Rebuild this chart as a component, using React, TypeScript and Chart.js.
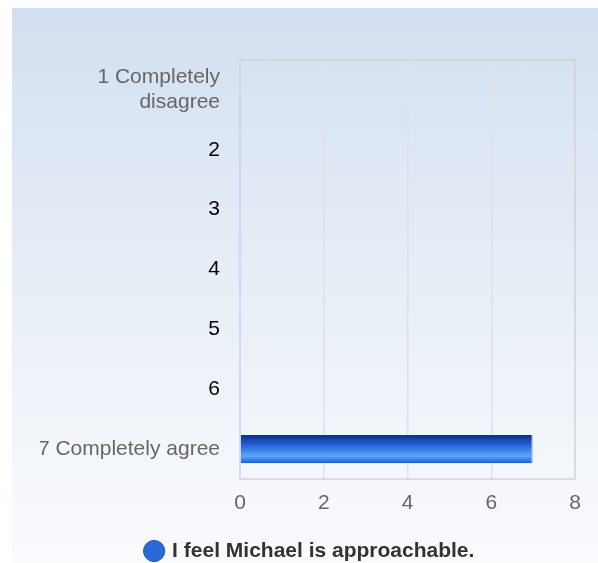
import React, { useEffect, useRef } from "react";
import { Chart, registerables } from "chart.js";

Chart.register(...registerables);

const categories: (string | string[])[] = [
  ["1 Completely", "disagree"],
  "2",
  "3",
  "4",
  "5",
  "6",
  "7 Completely agree",
];
const seriesLabel = "I feel Michael is approachable.";
const seriesValues = [0, 0, 0, 0, 0, 0, 7];
const xMin = 0;
const xMax = 8;
const xStep = 2;

const frame = {
  id: "frame",
  beforeDatasetsDraw(chart: any) {
    const { ctx, chartArea } = chart;
    ctx.save();
    ctx.strokeStyle = "#cfd3da";
    ctx.lineWidth = 1.5;
    ctx.beginPath();
    ctx.moveTo(chartArea.left, chartArea.top);
    ctx.lineTo(chartArea.right, chartArea.top);
    ctx.lineTo(chartArea.right, chartArea.bottom);
    ctx.lineTo(chartArea.left, chartArea.bottom);
    ctx.stroke();
    ctx.strokeStyle = "#c6d3ea";
    ctx.beginPath();
    ctx.moveTo(chartArea.left, chartArea.top);
    ctx.lineTo(chartArea.left, chartArea.bottom);
    ctx.stroke();
    ctx.restore();
  },
};

export default function App() {
  const ref = useRef<HTMLCanvasElement>(null);
  useEffect(() => {
    if (!ref.current) return;
    const font = { family: "'Liberation Sans', Arial, sans-serif", size: 21 };
    const chart = new Chart(ref.current, {
      type: "bar",
      data: {
        labels: categories,
        datasets: [
          {
            label: seriesLabel,
            data: seriesValues,
            backgroundColor: (c: any) => {
              const ch = c.chart;
              if (!ch.chartArea || !ch.scales.y) return "#2a6bd8";
              const y = ch.scales.y.getPixelForValue(c.dataIndex);
              const h = 14;
              const g = ch.ctx.createLinearGradient(0, y - h, 0, y + h);
              g.addColorStop(0, "#0a2f8c");
              g.addColorStop(0.35, "#2461d6");
              g.addColorStop(0.75, "#5aa6ff");
              g.addColorStop(1, "#1c5fd2");
              return g;
            },
            borderColor: "#b8cff5",
            borderWidth: { top: 0, bottom: 0, left: 0, right: 1.5 },
            borderSkipped: false,
            barPercentage: 0.94,
            categoryPercentage: 0.5,
          },
        ],
      },
      options: {
        indexAxis: "y",
        responsive: false,
        animation: false,
        layout: { padding: { top: 52, right: 17, left: 28, bottom: 0 } },
        scales: {
          x: {
            min: xMin,
            max: xMax,
            ticks: { stepSize: xStep, color: "#666", font, padding: 12 },
            grid: {
              color: (c: any) =>
                c.tick && (c.tick.value === xMin || c.tick.value === xMax)
                  ? "rgba(0,0,0,0)"
                  : "#dde1e8",
              lineWidth: 1.5,
              drawTicks: false,
            },
            border: { display: false },
            afterFit: (s: any) => {
              s.height = 59.5;
              s.paddingRight = 23;
            },
          },
          y: {
            ticks: {
              color: (c: any) => (c.index === 0 || c.index === 6 ? "#666" : "#000"),
              font: { ...font, lineHeight: 1.2 },
              padding: 20,
            },
            grid: { display: false, drawTicks: false },
            border: { display: false },
            afterFit: (s: any) => {
              s.width = 200;
            },
          },
        },
        plugins: {
          legend: {
            position: "bottom",
            maxHeight: 24.5,
            labels: {
              usePointStyle: true,
              pointStyle: "circle",
              boxWidth: 15,
              boxHeight: 15,
              color: "#333",
              font: { ...font, weight: "bold" },
              padding: 2,
              generateLabels: (ch: any) =>
                ch.data.datasets.map((d: any, i: number) => ({
                  text: d.label,
                  fillStyle: "#2a6ad6",
                  strokeStyle: "#1f58c4",
                  lineWidth: 1,
                  pointStyle: "circle",
                  datasetIndex: i,
                  hidden: false,
                  fontColor: "#333",
                })),
            },
          },
          tooltip: { enabled: false },
        },
      },
      plugins: [frame],
    } as any);
    return () => chart.destroy();
  }, []);
  return (
    <div
      style={{
        position: "fixed",
        left: 12,
        top: 8,
        width: 586,
        height: 555,
        background: "linear-gradient(to bottom, #d3dff0 0%, #e6edf6 45%, #fafbfd 100%)",
      }}
    >
      <canvas ref={ref} width={586} height={555} style={{ display: "block" }} />
    </div>
  );
}
